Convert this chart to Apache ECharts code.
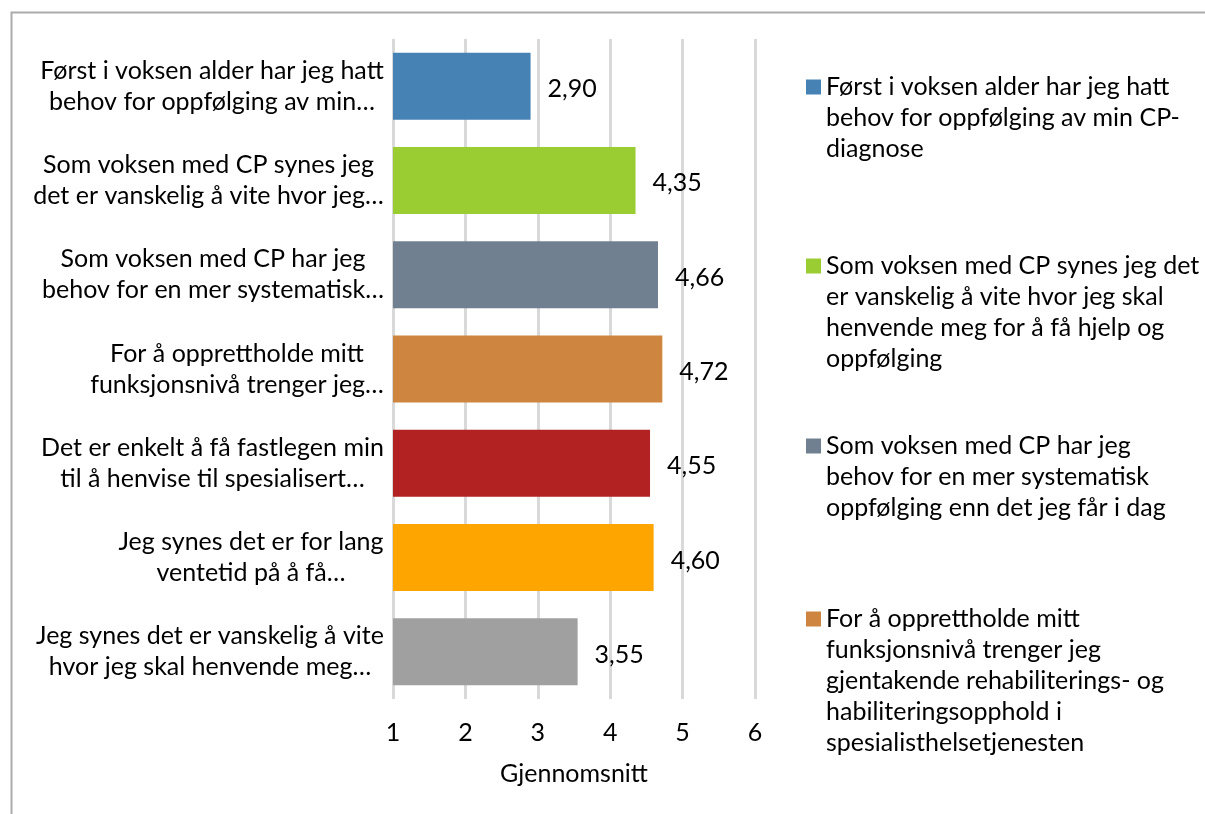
<!DOCTYPE html>
<html>
<head>
<meta charset="utf-8">
<script src="https://cdn.jsdelivr.net/npm/echarts@6/dist/echarts.min.js"></script>
<style>
  html, body { margin: 0; padding: 0; background: #fff; }
  #chart { width: 1205px; height: 814px; }
</style>
</head>
<body>
<div id="chart"></div>
<script>
// statements as shown on the axis (truncated, with line breaks)
const axisLabels = [
  ['Først i voksen alder har jeg hatt', 'behov for oppfølging av min…'],
  ['Som voksen med CP synes jeg', 'det er vanskelig å vite hvor jeg…'],
  ['Som voksen med CP har jeg', 'behov for en mer systematisk…'],
  ['For å opprettholde mitt', 'funksjonsnivå trenger jeg…'],
  ['Det er enkelt å få fastlegen min', 'til å henvise til spesialisert…'],
  ['Jeg synes det er for lang', 'ventetid på å få…'],
  ['Jeg synes det er vanskelig å vite', 'hvor jeg skal henvende meg…']
];
// full statements (legend), wrapped as in the picture
const legendLines = [
  ['Først i voksen alder har jeg hatt', 'behov for oppfølging av min CP-', 'diagnose'],
  ['Som voksen med CP synes jeg det', 'er vanskelig å vite hvor jeg skal', 'henvende meg for å få hjelp og', 'oppfølging'],
  ['Som voksen med CP har jeg', 'behov for en mer systematisk', 'oppfølging enn det jeg får i dag'],
  ['For å opprettholde mitt', 'funksjonsnivå trenger jeg', 'gjentakende rehabiliterings- og', 'habiliteringsopphold i', 'spesialisthelsetjenesten'],
  ['Det er enkelt å få fastlegen min', 'til å henvise til spesialisert…'],
  ['Jeg synes det er for lang', 'ventetid på å få…'],
  ['Jeg synes det er vanskelig å vite', 'hvor jeg skal henvende meg…']
];
const values = [2.90, 4.35, 4.66, 4.72, 4.55, 4.60, 3.55];
const colors = ['#4682B4', '#9ACD32', '#708090', '#CD853F', '#B22222', '#FFA500', '#A0A0A0'];
const legendCenters = [87, 266, 446, 619];

const FONT = 'Lato';
const FS = 25;
const LH = 31;

const names = legendLines.map(l => l.join(' '));
const categories = axisLabels.map(l => l.join('\n'));

// measure label blocks so lines are centred inside a right-aligned block
const ctx = document.createElement('canvas').getContext('2d');
ctx.font = FS + 'px ' + FONT;
const rich = {};
axisLabels.forEach((lines, i) => {
  const w = Math.max(...lines.map(s => ctx.measureText(s).width));
  rich['l' + i] = { width: Math.ceil(w) + 2, align: 'center', fontFamily: FONT, fontSize: FS, lineHeight: LH, color: '#000' };
});

const series = names.map((name, i) => ({
  name: name,
  type: 'bar',
  stack: 'all',
  barWidth: 67,
  itemStyle: { color: colors[i] },
  label: {
    show: true,
    position: 'right',
    distance: 17,
    offset: [0, 3],
    fontFamily: FONT,
    fontSize: FS,
    color: '#000',
    formatter: p => p.value.toFixed(2).replace('.', ',')
  },
  data: values.map((v, j) => (j === i ? v : '-'))
}));

// blank lines above the text keep the icon level with the first line
const legends = legendCenters.map((c, i) => {
  const n = legendLines[i].length;
  const pad = new Array(n - 1).fill(' ');
  return {
    orient: 'vertical',
    left: 806,
    top: c - (2 * n - 1) * LH / 2,
    padding: 0,
    itemWidth: 15,
    itemHeight: 15,
    icon: 'rect',
    selectedMode: false,
    data: [names[i]],
    formatter: () => pad.concat(legendLines[i]).join('\n'),
    textStyle: {
      fontFamily: FONT,
      fontSize: FS,
      lineHeight: LH,
      color: '#000'
    }
  };
});

const chart = echarts.init(document.getElementById('chart'));
chart.setOption({
  animation: false,
  grid: { left: 393, right: 450, top: 39, bottom: 115 },
  xAxis: {
    type: 'value',
    min: 1,
    max: 6,
    interval: 1,
    name: 'Gjennomsnitt',
    nameLocation: 'middle',
    nameGap: 62,
    nameTextStyle: { fontFamily: FONT, fontSize: FS, color: '#000' },
    axisLine: { show: false },
    axisTick: { show: false },
    axisLabel: { margin: 21, fontFamily: FONT, fontSize: FS, color: '#000' },
    splitLine: { lineStyle: { color: '#D9D9D9', width: 3 } }
  },
  yAxis: {
    type: 'category',
    inverse: true,
    data: categories,
    axisLine: { show: false },
    axisTick: { show: false },
    axisLabel: {
      margin: 8,
      rich: rich,
      formatter: (v, idx) => v.split('\n').map(s => '{l' + idx + '|' + s + '}').join('\n')
    }
  },
  legend: legends,
  graphic: [{
    type: 'rect',
    left: 9, top: 10,
    shape: { width: 1400, height: 1000 },
    style: { fill: 'none', stroke: '#ABABAB', lineWidth: 2 },
    silent: true,
    z: -1
  }],
  series: series
});
</script>
</body>
</html>
